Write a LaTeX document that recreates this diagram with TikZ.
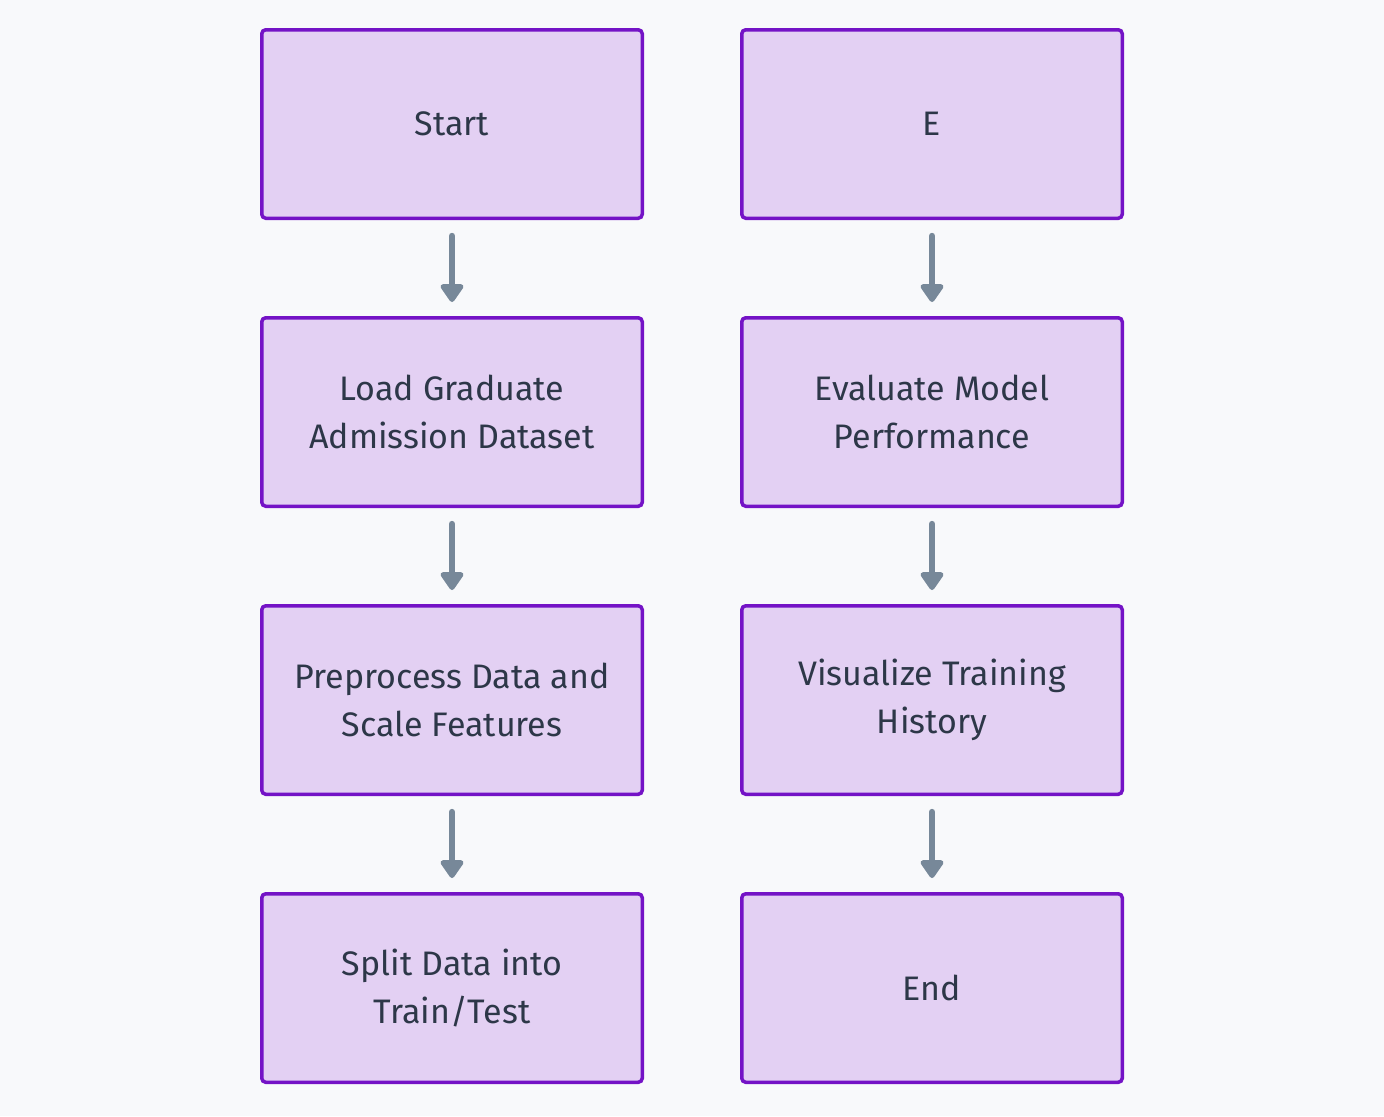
\documentclass[tikz,border=0pt]{standalone}
\usepackage{fontspec}
\setmainfont{Fira Sans}
\usetikzlibrary{arrows.meta}
\definecolor{bgcol}{HTML}{F8F9FB}
\definecolor{boxfill}{HTML}{E3D0F3}
\definecolor{boxdraw}{HTML}{7413C6}
\definecolor{arrowcol}{HTML}{778899}
\definecolor{textcol}{HTML}{2D3748}
\begin{document}
\begin{tikzpicture}[
    x=0.5pt, y=0.5pt,
    font=\fontsize{17}{24}\selectfont,
    stepbox/.style={rectangle, rounded corners=2pt, draw=boxdraw, line width=1.75pt, fill=boxfill, text=textcol, align=center, minimum width=190.25pt, minimum height=94.25pt},
    arrow/.style={draw=arrowcol, line width=3.2pt, line cap=round, -{Triangle[width=13pt,length=10pt,round]}, shorten <=8pt, shorten >=7pt}
]

% background
\fill[bgcol] (0,0) rectangle (1384,-1116);
\useasboundingbox (0,0) rectangle (1384,-1116);

% --- Nodes ---
% Left column
\node (start) at (452, -124) [stepbox] {Start};
\node (load) at (452, -412) [stepbox] {Load Graduate\\Admission Dataset};
\node (prep) at (452, -700) [stepbox] {Preprocess Data and\\Scale Features};
\node (split) at (452, -988) [stepbox] {Split Data into\\Train/Test};

% Right column
\node (e) at (932, -124) [stepbox] {E};
\node (eval) at (932, -412) [stepbox] {Evaluate Model\\Performance};
\node (vis) at (932, -700) [stepbox] {Visualize Training\\History};
\node (end) at (932, -988) [stepbox] {End};

% --- Edges ---
\draw [arrow] (start) -- (load);
\draw [arrow] (load) -- (prep);
\draw [arrow] (prep) -- (split);

\draw [arrow] (e) -- (eval);
\draw [arrow] (eval) -- (vis);
\draw [arrow] (vis) -- (end);

\end{tikzpicture}
\end{document}
